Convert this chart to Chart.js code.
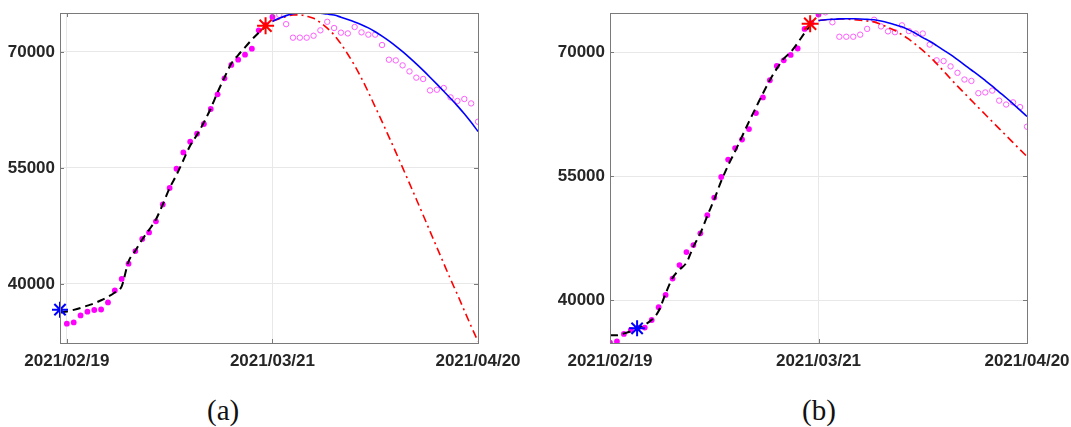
<!DOCTYPE html>
<html>
<head>
<meta charset="utf-8">
<script src="https://cdn.jsdelivr.net/npm/chart.js@4.4.0/dist/chart.umd.min.js"></script>
<style>
  body { margin: 0; background: #fff; width: 1071px; height: 427px; position: relative; overflow: hidden; }
  .panel { position: absolute; top: 0; height: 380px; }
  .cap { position: absolute; top: 395px; font-family: "Liberation Serif", serif; font-size: 29px; line-height: 30px; color: #111; }
</style>
</head>
<body>
<div class="panel" style="left:0;width:540px"><canvas id="chartA" width="540" height="380"></canvas></div>
<div class="panel" style="left:545px;width:526px"><canvas id="chartB" width="526" height="380"></canvas></div>
<div class="cap" style="left:207px">(a)</div>
<div class="cap" style="left:802px">(b)</div>

<script>
// x axis: days counted from 2021/02/19
const tickDays = [0, 30, 60];
const tickLabels = ["2021/02/19", "2021/03/21", "2021/04/20"];
const yTicks = [40000, 55000, 70000];

// observed data (same in both panels)
const obsDays = [0,1,2,3,4,5,6,7,8,9,10,11,12,13,14,15,16,17,18,19,20,21,22,23,24,25,26,27,28,29,30];
const obsValues = [34870,35030,35940,36420,36640,36700,37620,39160,40650,42630,44260,45830,46670,48100,50290,
  52420,54900,57010,58400,59430,60690,62630,64520,66590,68320,69000,69650,70430,72800,73500,74530];
const laterDays = [31,32,33,34,35,36,37,38,39,40,41,42,43,44,45,46,47,48,49,50,51,52,53,54,55,56,57,58,59,60];
const laterValues = [74800,73600,71850,71850,71850,72100,72800,73900,73100,72500,72400,73230,72540,72240,72240,
  70900,69000,68910,68270,67490,66680,66510,65030,65120,65340,64130,63660,63920,63350,60980];

// fitted curves
const fitDaysA = [-1,0,1,2,3,4,5,6,7,8,9,10,11,12,13,14,15,16,17,18,19,20,21,22,23,24,25,26,27,28,29];
const fitA = [36300,36450,36650,36900,37200,37500,37900,38350,38900,39700,42900,44300,45750,47000,48350,50300,
  52400,54100,56000,57900,59300,60900,62700,64800,66700,68500,69600,70600,71600,72500,73300];
const fitDaysB = [0,1,2,3,4,5,6,7,8,9,10,11,12,13,14,15,16,17,18,19,20,21,22,23,24,25,26,27,28,29];
const fitB = [35770,35770,35990,36250,36600,37050,37650,38700,40800,42700,43700,44550,46480,48100,50200,52200,
  54400,56300,58000,59800,61600,63300,65000,66600,68000,69200,70000,71100,72300,73400];

// predictions from 2021/03/21
const predDays = [30,31,32,33,34,35,36,37,38,39,40,41,42,43,44,45,46,47,48,49,50,51,52,53,54,55,56,57,58,59,60];
const blueA = [73960,74370,74700,74940,75070,75120,75100,75020,74900,74770,74500,74200,73880,73530,73120,72620,
  72050,71430,70760,70040,69270,68460,67620,66740,65840,64920,63990,63030,62000,60900,59730];
const redA = [74000,74300,74580,74780,74800,74620,74350,73800,73080,72200,71050,69700,68250,66600,64800,62900,
  61000,59030,57050,55040,53010,50960,48890,46810,44730,42660,40600,38630,36570,34540,32560];
const blueB = [73820,73900,73960,74010,74030,74020,74000,73950,73900,73750,73550,73300,73050,72680,72250,71750,
  71300,70780,70230,69680,69080,68460,67830,67220,66560,65880,65170,64480,63740,62980,62210];
const redB = [73820,73900,73960,73990,73980,73930,73850,73750,73650,73340,72980,72600,72100,71560,70900,70200,
  69450,68600,67700,66780,65880,65020,64160,63300,62450,61600,60750,59900,59050,58200,57370];

// marked points [day, value]
const startStarA = [-1, 36680];
const peakStarA = [29, 73400];
const startStarB = [3.9, 36610];
const peakStarB = [28.8, 73420];

const pts = (xs, ys) => xs.map((x, i) => ({ x: x, y: ys[i] }));

const framePlugin = {
  id: "frame",
  afterDraw(chart) {
    const { ctx, chartArea: a, scales } = chart;
    ctx.save();
    ctx.strokeStyle = "#7a7a7a";
    ctx.lineWidth = 1;
    ctx.strokeRect(Math.round(a.left) + 0.5, Math.round(a.top) + 0.5,
      Math.round(a.right - a.left), Math.round(a.bottom - a.top));
    ctx.beginPath();
    scales.x.ticks.forEach(t => {
      const px = Math.round(scales.x.getPixelForValue(t.value)) + 0.5;
      ctx.moveTo(px, a.bottom); ctx.lineTo(px, a.bottom - 4);
      ctx.moveTo(px, a.top); ctx.lineTo(px, a.top + 4);
    });
    scales.y.ticks.forEach(t => {
      const py = Math.round(scales.y.getPixelForValue(t.value)) + 0.5;
      ctx.moveTo(a.left, py); ctx.lineTo(a.left + 4, py);
      ctx.moveTo(a.right, py); ctx.lineTo(a.right - 4, py);
    });
    ctx.stroke();
    ctx.restore();
  }
};

function makeChart(id, cfg) {
  const tickFont = { family: "'Liberation Sans', Arial, sans-serif", size: 17, weight: "bold" };
  return new Chart(document.getElementById(id), {
    type: "scatter",
    data: {
      datasets: [
        { data: pts([cfg.startStar[0]], [cfg.startStar[1]]), pointStyle: "star", pointRadius: 8,
          pointBorderColor: "#0000ff", pointBorderWidth: 2, showLine: false, clip: false, order: 0 },
        { data: pts([cfg.peakStar[0]], [cfg.peakStar[1]]), pointStyle: "star", pointRadius: 8.5,
          pointBorderColor: "#ff0000", pointBorderWidth: 2, showLine: false, clip: false, order: 0 },
        { data: pts(cfg.fitDays, cfg.fit), showLine: true, borderColor: "#000", borderWidth: 2,
          borderDash: [8, 5], pointRadius: 0, cubicInterpolationMode: "monotone", order: 1 },
        { data: pts(predDays, cfg.blue), showLine: true, borderColor: "#0000ff", borderWidth: 1.6,
          pointRadius: 0, cubicInterpolationMode: "monotone", order: 1 },
        { data: pts(predDays, cfg.red), showLine: true, borderColor: "#ff0000", borderWidth: 1.6,
          borderDash: [8, 4, 2, 4], pointRadius: 0, cubicInterpolationMode: "monotone", order: 1 },
        { data: pts(obsDays, obsValues), showLine: false, pointRadius: 2.9, pointBorderWidth: 0,
          pointBackgroundColor: "#ff00ff", order: 2 },
        { data: pts(laterDays, laterValues), showLine: false, pointRadius: 2.7, pointBorderWidth: 1,
          pointBorderColor: "#ff5cff", pointBackgroundColor: "rgba(0,0,0,0)", order: 2 }
      ]
    },
    options: {
      responsive: false,
      animation: false,
      devicePixelRatio: 1,
      layout: { padding: { left: 0, top: 13, right: cfg.padRight, bottom: 0 } },
      plugins: { legend: { display: false }, tooltip: { enabled: false } },
      scales: {
        x: {
          type: "linear",
          min: cfg.xMin,
          max: 60,
          border: { display: false },
          grid: { color: "#e8e8e8", drawTicks: false },
          ticks: {
            font: tickFont, color: "#262626", padding: 8, maxRotation: 0,
            callback: (v) => tickLabels[tickDays.indexOf(v)]
          },
          afterBuildTicks: (s) => { s.ticks = tickDays.map(v => ({ value: v })); },
          afterFit: (s) => { s.height = 37; s.paddingLeft = 0; s.paddingRight = 0; }
        },
        y: {
          min: cfg.yMin,
          max: cfg.yMax,
          border: { display: false },
          grid: { color: "#e8e8e8", drawTicks: false },
          ticks: { font: tickFont, color: "#262626", padding: 5, callback: (v) => String(v) },
          afterBuildTicks: (s) => { s.ticks = yTicks.map(v => ({ value: v })); },
          afterFit: (s) => { s.width = cfg.yWidth; s.paddingTop = 0; s.paddingBottom = 0; }
        }
      }
    },
    plugins: [framePlugin]
  });
}

makeChart("chartA", {
  startStar: startStarA, peakStar: peakStarA, fitDays: fitDaysA, fit: fitA, blue: blueA, red: redA,
  xMin: -1, yMin: 32370, yMax: 75040, yWidth: 60, padRight: 62
});
makeChart("chartB", {
  startStar: startStarB, peakStar: peakStarB, fitDays: fitDaysB, fit: fitB, blue: blueB, red: redB,
  xMin: 0, yMin: 34840, yMax: 74720, yWidth: 65, padRight: 44
});
</script>
</body>
</html>
